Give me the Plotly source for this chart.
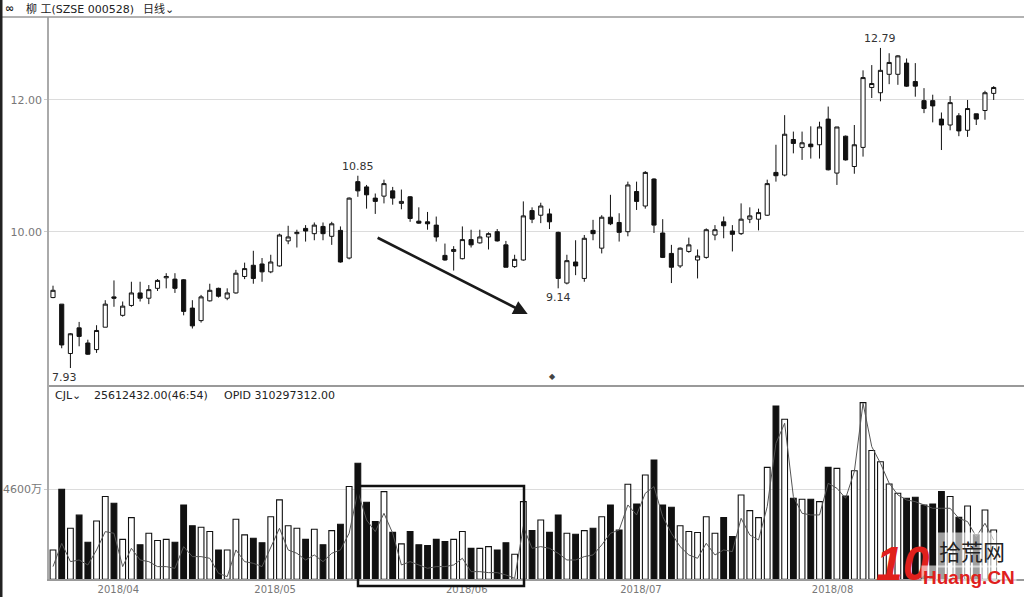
import plotly.graph_objects as go

# ---------------- data ----------------
mar_days = [22, 23, 26, 27, 28, 29, 30]
apr_days = [2, 3, 4, 9, 10, 11, 12, 13, 16, 17, 18, 19, 20, 23, 24, 25, 26, 27]
may_days = [2, 3, 4, 7, 8, 9, 10, 11, 14, 15, 16, 17, 18, 21, 22, 23, 24, 25, 28, 29, 30, 31]
jun_days = [1, 4, 5, 6, 7, 8, 11, 12, 13, 14, 15, 19, 20, 21, 22, 25, 26, 27, 28, 29]
jul_days = [2, 3, 4, 5, 6, 9, 10, 11, 12, 13, 16, 17, 18, 19, 20, 23, 24, 25, 26, 27, 30, 31]
aug_days = [1, 2, 3, 6, 7, 8, 9, 10, 13, 14, 15, 16, 17, 20, 21, 22, 23, 24, 27, 28]

dates = []
for m, days in [(3, mar_days), (4, apr_days), (5, may_days), (6, jun_days), (7, jul_days), (8, aug_days)]:
    dates += [f"2018-{m:02d}-{d:02d}" for d in days]

open_ = [9.00, 8.90, 8.15, 8.54, 8.31, 8.21, 8.55, 9.01, 8.73, 8.88,
         9.07, 8.99, 9.14, 9.30, 9.28, 9.27, 8.84, 8.65, 8.95, 9.14,
         8.99, 9.07, 9.32, 9.49, 9.51, 9.39, 9.48, 9.86, 9.97, 10.05,
         9.97, 10.08, 9.93, 10.02, 9.60, 10.76, 10.68, 10.51, 10.54, 10.62,
         10.43, 10.53, 10.16, 10.15, 10.10, 9.64, 9.70, 9.59, 9.88, 9.83,
         9.92, 10.00, 9.80, 9.47, 9.57, 10.32, 10.25, 10.27, 9.99, 9.22,
         9.54, 9.29, 10.02, 9.75, 10.22, 10.14, 10.00, 10.61, 10.39, 10.80,
         9.98, 9.67, 9.48, 9.70, 9.57, 9.61, 9.95, 10.15, 10.01, 9.97,
         10.19, 10.19, 10.25, 10.90, 10.86, 11.40, 11.28, 11.33, 11.32, 11.71,
         10.89, 11.45, 10.99, 11.28, 12.19, 12.11, 12.39, 12.39, 12.56, 12.28,
         11.99, 11.99, 11.71, 11.62, 11.76, 11.54, 11.79, 11.84, 12.10]
high = [9.18, 8.90, 8.46, 8.63, 8.36, 8.58, 8.96, 9.26, 8.94, 9.24,
        9.24, 9.19, 9.28, 9.37, 9.37, 9.28, 8.96, 9.04, 9.21, 9.15,
        9.14, 9.42, 9.53, 9.71, 9.60, 9.65, 9.97, 10.09, 10.03, 10.10,
        10.14, 10.14, 10.15, 10.08, 10.52, 10.85, 10.71, 10.58, 10.79, 10.68,
        10.64, 10.54, 10.37, 10.30, 10.23, 9.82, 9.78, 10.08, 10.03, 10.03,
        9.99, 10.04, 9.86, 9.65, 10.46, 10.37, 10.44, 10.35, 10.00, 9.65,
        9.87, 9.95, 10.18, 10.25, 10.56, 10.28, 10.76, 10.76, 10.92, 10.81,
        10.19, 9.80, 9.76, 9.91, 9.73, 10.05, 10.10, 10.23, 10.10, 10.43,
        10.37, 10.35, 10.79, 11.32, 11.77, 11.52, 11.52, 11.60, 11.67, 11.90,
        11.59, 11.46, 11.62, 12.45, 12.53, 12.79, 12.71, 12.68, 12.63, 12.56,
        12.18, 12.08, 11.81, 12.06, 11.80, 12.00, 11.79, 12.14, 12.21]
low = [8.99, 8.23, 7.93, 8.26, 8.13, 8.16, 8.55, 8.86, 8.71, 8.86,
       8.94, 8.90, 9.10, 9.14, 9.07, 8.73, 8.53, 8.62, 8.94, 9.00,
       8.96, 9.06, 9.28, 9.21, 9.24, 9.37, 9.47, 9.81, 9.76, 9.85,
       9.87, 9.87, 9.80, 9.53, 9.58, 10.53, 10.35, 10.27, 10.43, 10.41,
       10.34, 10.15, 10.12, 10.03, 9.85, 9.56, 9.41, 9.58, 9.76, 9.82,
       9.73, 9.85, 9.46, 9.45, 9.56, 10.13, 10.13, 10.04, 9.14, 9.20,
       9.34, 9.24, 9.87, 9.67, 10.10, 9.85, 9.93, 10.33, 10.35, 9.98,
       9.60, 9.22, 9.45, 9.68, 9.29, 9.59, 9.87, 9.90, 9.70, 9.95,
       10.13, 10.02, 10.24, 10.76, 10.84, 11.19, 11.09, 11.11, 11.11, 10.93,
       10.71, 11.08, 10.88, 11.14, 12.03, 11.98, 12.24, 12.23, 12.20, 12.05,
       11.80, 11.66, 11.24, 11.54, 11.45, 11.44, 11.62, 11.70, 12.00]
close = [9.11, 8.28, 8.45, 8.41, 8.14, 8.50, 8.90, 8.99, 8.87, 9.07,
         8.99, 9.12, 9.26, 9.32, 9.14, 8.79, 8.57, 9.01, 9.11, 9.02,
         9.07, 9.37, 9.44, 9.29, 9.39, 9.54, 9.95, 9.92, 9.99, 10.01,
         10.10, 9.97, 10.12, 9.54, 10.51, 10.62, 10.56, 10.46, 10.73, 10.51,
         10.46, 10.20, 10.13, 10.12, 9.92, 9.57, 9.73, 9.88, 9.80, 9.92,
         9.97, 9.86, 9.46, 9.58, 10.24, 10.19, 10.39, 10.15, 9.29, 9.56,
         9.48, 9.90, 9.97, 10.22, 10.12, 9.99, 10.71, 10.46, 10.90, 10.10,
         9.61, 9.46, 9.75, 9.80, 9.63, 10.03, 10.03, 10.09, 9.96, 10.19,
         10.24, 10.29, 10.73, 10.85, 11.48, 11.34, 11.35, 11.29, 11.59, 10.94,
         11.59, 11.09, 11.32, 12.34, 12.25, 12.45, 12.57, 12.67, 12.21, 12.21,
         11.87, 11.91, 11.62, 11.96, 11.53, 11.87, 11.71, 12.11, 12.19]

# volume (unit: 万)
volume = [1500, 4600, 2610, 3280, 1890, 2980, 4230, 3890, 2040, 3150,
          1760, 2350, 1980, 2040, 1890, 3800, 2740, 2660, 2440, 1500,
          1500, 3070, 2270, 2100, 1870, 3200, 4060, 2740, 2610, 2040,
          2560, 1760, 2490, 2810, 4740, 5930, 3940, 2950, 4480, 2400,
          1810, 2440, 1760, 1720, 2040, 1930, 2040, 2440, 1580, 1580,
          1670, 1500, 1870, 1280, 3970, 2490, 3030, 2400, 3290, 2350,
          2300, 2490, 2610, 3200, 3800, 2520, 4860, 3850, 5330, 6100,
          3800, 3680, 2740, 2440, 2390, 3200, 2350, 3150, 2180, 4310,
          3510, 3150, 5720, 8860, 8180, 4140, 4090, 4090, 3970, 5720,
          5670, 4260, 5550, 9030, 6580, 6010, 4870, 4400, 4140, 4190,
          3800, 3850, 4480, 4230, 3170, 3750, 2270, 3540, 2520]
# volume indicator line (unit: 万)
vol_line = [650, 1840, 903, 988, 733, 1500, 2437, 2352, 648, 1585,
            988, 903, 648, 648, 562, 1670, 1159, 1159, 1074, 307,
            136, 1500, 903, 818, 648, 1670, 2607, 1500, 1329, 988,
            1244, 903, 1329, 1500, 2352, 4482, 3033, 2437, 3374, 2352,
            733, 903, 733, 562, 648, 648, 733, 1074, 392, 392,
            341, 341, 222, 51, 2692, 1585, 1670, 1585, 1329, 988,
            988, 1159, 1244, 1755, 2352, 2522, 3800, 3289, 4396, 4737,
            3204, 2352, 1670, 1244, 1074, 1840, 1244, 1500, 1414, 3118,
            2266, 2011, 3715, 6952, 7975, 4226, 3374, 3289, 3289, 4908,
            4652, 4141, 5504, 8997, 6782, 5930, 4908, 4311, 4056, 3970,
            3800, 3630, 3630, 3630, 3118, 2948, 2181, 2863, 2011]

price_ticks = [10, 12]
vol_ticks = [4600]

# ---------------- figure ----------------
W, H = 1024, 597
pos = list(range(len(dates)))
month_first = [i for i in range(1, len(dates)) if dates[i][5:7] != dates[i - 1][5:7]]
month_labels = [dates[i][:7].replace("-", "/") for i in month_first]

def px(x):
    return x / W

def py(y):
    return 1 - y / H

x_left = px(49)
xr = [-0.459, 111.48]
price_dom = [py(386), py(17)]
vol_dom = [py(579.3), py(386)]

fig = go.Figure()
fig.add_trace(go.Candlestick(
    x=pos, open=open_, high=high, low=low, close=close,
    increasing=dict(line=dict(color="#111", width=1), fillcolor="white"),
    decreasing=dict(line=dict(color="#111", width=1), fillcolor="#111"),
    whiskerwidth=0, xaxis="x", yaxis="y", showlegend=False, hoverinfo="skip"))

bar_colors = ["white" if c >= o else "#111" for o, c in zip(open_, close)]
fig.add_trace(go.Bar(
    x=pos, y=volume, width=0.66, marker=dict(color=bar_colors, line=dict(color="#111", width=1.1)),
    xaxis="x2", yaxis="y2", showlegend=False, hoverinfo="skip"))
fig.add_trace(go.Scatter(
    x=pos, y=vol_line, mode="lines", line=dict(color="#555", width=1),
    xaxis="x2", yaxis="y2", showlegend=False, hoverinfo="skip"))

tick_font = dict(family="DejaVu Sans", size=10, color="#777")
ytick_font = dict(family="DejaVu Sans, Noto Sans CJK SC", size=11, color="#777")
fig.update_layout(
    width=W, height=H, margin=dict(l=0, r=0, t=0, b=0),
    paper_bgcolor="white", plot_bgcolor="white",
    boxgap=0.32,
    xaxis=dict(domain=[x_left, 1], range=xr, anchor="y", showticklabels=False, showgrid=False,
               zeroline=False, showline=False, rangeslider=dict(visible=False), fixedrange=True),
    yaxis=dict(domain=price_dom, range=[7.657, 13.26], anchor="x", tickvals=price_ticks,
               ticktext=[f"{v:.2f}" for v in price_ticks], showgrid=True, gridcolor="#dcdcdc",
               gridwidth=1, zeroline=False, showline=True, linecolor="#aaa", linewidth=1.5,
               ticks="outside", ticklen=3, tickcolor="#ccc", tickfont=ytick_font),
    xaxis2=dict(domain=[x_left, 1], range=xr, anchor="y2", tickvals=[i + 0.5 for i in month_first],
                ticktext=month_labels, showgrid=False, zeroline=False, showline=True,
                linecolor="#999", linewidth=1.5, ticks="", tickfont=tick_font),
    yaxis2=dict(domain=vol_dom, range=[0, 9880], anchor="x2", tickvals=vol_ticks,
                ticktext=[f"{v}万" for v in vol_ticks], showgrid=True, gridcolor="#dcdcdc",
                zeroline=False, showline=True, linecolor="#aaa", linewidth=1.5,
                ticks="outside", ticklen=3, tickcolor="#ccc", tickfont=ytick_font),
    bargap=0.3,
)

shapes = [
    dict(type="line", xref="paper", yref="paper", x0=0, x1=1, y0=py(17), y1=py(17),
         line=dict(color="#999", width=1.5)),
    dict(type="line", xref="paper", yref="paper", x0=x_left, x1=1, y0=py(386), y1=py(386),
         line=dict(color="#999", width=2)),
    dict(type="rect", xref="paper", yref="paper", x0=0, x1=px(2.5), y0=0, y1=1,
         fillcolor="#222", line=dict(width=0)),
    # highlight box in volume pane
    dict(type="rect", xref="paper", yref="paper", x0=px(358), x1=px(524), y0=py(586), y1=py(486),
         line=dict(color="#111", width=2.5), fillcolor="rgba(0,0,0,0)"),
]
fig.update_layout(shapes=shapes)

i_hi1 = 35
i_lo2 = 58
i_max = max(range(len(high)), key=lambda i: high[i])
i_min = min(range(len(low)), key=lambda i: low[i])
lab_font = dict(family="DejaVu Sans", size=11, color="#333")
hdr_font = dict(family="DejaVu Sans, Noto Sans CJK SC", size=11, color="#222")
ann = [
    dict(x=i_hi1, y=high[i_hi1], text=f"{high[i_hi1]:.2f}", showarrow=False, yanchor="bottom",
         xanchor="center", xref="x", yref="y", font=lab_font, yshift=1),
    dict(x=i_lo2, y=low[i_lo2], text=f"{low[i_lo2]:.2f}", showarrow=False, yanchor="top",
         xanchor="center", xref="x", yref="y", font=lab_font, yshift=-1),
    dict(x=i_max, y=high[i_max], text=f"{high[i_max]:.2f}", showarrow=False, yanchor="bottom",
         xanchor="center", xref="x", yref="y", font=lab_font, yshift=1),
    dict(x=i_min, y=low[i_min], text=f"{low[i_min]:.2f}", showarrow=False, yanchor="top",
         xanchor="center", xref="x", yref="y", font=lab_font, xshift=-6, yshift=-1),
    # trend arrow
    dict(x=54.5, y=8.75, ax=37.1, ay=9.92, xref="x", yref="y", axref="x", ayref="y",
         text="", showarrow=True, arrowhead=2, arrowsize=1.1, arrowwidth=2.6, arrowcolor="#1a1a1a"),
    # header
    dict(x=px(3), y=py(9), xref="paper", yref="paper", xanchor="left", yanchor="middle",
         text="<b>∞</b>", showarrow=False, font=hdr_font),
    dict(x=px(24), y=py(9), xref="paper", yref="paper", xanchor="left", yanchor="middle",
         text="柳 工(SZSE 000528)", showarrow=False, font=hdr_font),
    dict(x=px(141), y=py(9), xref="paper", yref="paper", xanchor="left", yanchor="middle",
         text="日线⌄", showarrow=False, font=hdr_font),
    # volume pane header
    dict(x=px(53), y=py(395), xref="paper", yref="paper", xanchor="left", yanchor="middle",
         text="CJL⌄", showarrow=False, font=hdr_font),
    dict(x=px(92), y=py(395), xref="paper", yref="paper", xanchor="left", yanchor="middle",
         text="25612432.00(46:54)", showarrow=False, font=hdr_font),
    dict(x=px(222), y=py(395), xref="paper", yref="paper", xanchor="left", yanchor="middle",
         text="OPID 310297312.00", showarrow=False, font=hdr_font),
    dict(x=px(552), y=py(376), xref="paper", yref="paper", xanchor="center", yanchor="middle",
         text="◆", showarrow=False, font=dict(family="DejaVu Sans", size=8, color="#444")),
    # watermark
    dict(x=px(903), y=py(563), xref="paper", yref="paper", xanchor="center", yanchor="middle",
         text="<b><i>10</i></b>", showarrow=False,
         font=dict(family="Liberation Sans", size=48, color="#e0201c")),
    dict(x=px(972), y=py(550), xref="paper", yref="paper", xanchor="center", yanchor="middle",
         text="拾荒网", showarrow=False, bgcolor="rgba(255,255,255,0.6)",
         font=dict(family="Noto Sans CJK SC", size=22, color="#222")),
    dict(x=px(969), y=py(577), xref="paper", yref="paper", xanchor="center", yanchor="middle",
         text="<b>Huang.CN</b>", showarrow=False, bgcolor="rgba(255,255,255,0.6)",
         font=dict(family="Liberation Sans", size=19, color="#e0201c")),
]
fig.update_layout(annotations=ann)

fig.write_html("out.html", config={"displayModeBar": False},
               post_script="document.body.style.margin='0px';document.body.style.overflow='hidden';")
